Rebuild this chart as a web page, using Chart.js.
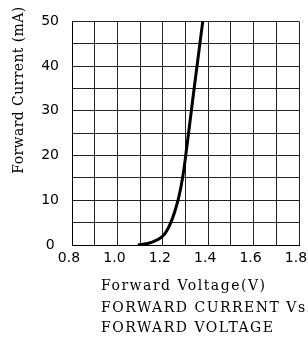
<!DOCTYPE html>
<html>
<head>
<meta charset="utf-8">
<script src="https://cdn.jsdelivr.net/npm/chart.js@4/dist/chart.umd.min.js"></script>
<style>
  html, body { margin: 0; padding: 0; background: #fff; }
  #wrap { width: 308px; height: 338px; position: relative; }
</style>
</head>
<body>
<div id="wrap"><canvas id="c" width="308" height="338"></canvas></div>
<script>
// Data
const voltage = [1.09, 1.15, 1.20, 1.235, 1.267, 1.287, 1.301, 1.338, 1.376];
const current = [0, 0.6, 2.0, 5, 10, 15, 20, 35, 50];
const xTickLabels = ['0.8', '1.0', '1.2', '1.4', '1.6', '1.8'];
const yTickLabels = ['0', '10', '20', '30', '40', '50'];
const yTitle = 'Forward Current (mA)';
const xTitleLines = ['Forward Voltage(V)', 'FORWARD CURRENT Vs.', 'FORWARD VOLTAGE'];

const TITLE_FONT = '"DejaVu Serif", serif';
const TICK_FONT = '"DejaVu Sans", sans-serif';

const textPlugin = {
  id: 'texts',
  afterDraw(chart) {
    const ctx = chart.ctx;
    ctx.save();
    ctx.fillStyle = '#000';
    ctx.font = '14px ' + TITLE_FONT;
    // y-axis title (rotated)
    ctx.save();
    ctx.letterSpacing = '0.4px';
    ctx.translate(19, 90);
    ctx.rotate(-Math.PI / 2);
    ctx.textAlign = 'center';
    ctx.textBaseline = 'middle';
    ctx.fillText(yTitle, 0, 0);
    ctx.restore();
    // x-axis title block (left aligned)
    ctx.letterSpacing = '1.5px';
    ctx.textAlign = 'left';
    ctx.textBaseline = 'alphabetic';
    const base = [290, 311.5, 331.5];
    xTitleLines.forEach((t, i) => ctx.fillText(t, 101, base[i]));
    ctx.restore();
  }
};

const gridColor = '#222';

new Chart(document.getElementById('c'), {
  type: 'line',
  data: {
    datasets: [{
      data: voltage.map((v, i) => ({ x: v, y: current[i] })),
      borderColor: '#000',
      borderWidth: 3,
      pointRadius: 0,
      fill: false,
      tension: 0.4
    }]
  },
  options: {
    responsive: false,
    animation: false,
    devicePixelRatio: 1,
    layout: { padding: { top: 19, right: 9, left: 0, bottom: 0 } },
    plugins: { legend: { display: false }, tooltip: { enabled: false }, title: { display: false } },
    scales: {
      x: {
        type: 'linear',
        min: 0.8,
        max: 1.8,
        afterFit(scale) { scale.height = 93; scale.paddingLeft = 0; scale.paddingRight = 0; },
        ticks: {
          stepSize: 0.1,
          autoSkip: false,
          maxRotation: 0,
          minRotation: 0,
          padding: 5,
          labelOffset: -3,
          color: '#000',
          font: { family: TICK_FONT, size: 14 },
          callback(v) {
            const k = Math.round(v * 10);
            if (k % 2 !== 0) return '';
            const s = (k / 10).toFixed(1);
            return xTickLabels.includes(s) ? s : '';
          }
        },
        grid: { color: gridColor, lineWidth: 1, drawTicks: false },
        border: { color: '#000', width: 1 }
      },
      y: {
        type: 'linear',
        min: 0,
        max: 50,
        afterFit(scale) { scale.width = 72; },
        ticks: {
          stepSize: 5,
          autoSkip: false,
          padding: 13,
          crossAlign: 'center',
          color: '#000',
          font: { family: TICK_FONT, size: 14 },
          callback(v) {
            const s = String(Math.round(v));
            return (Math.round(v) % 10 === 0 && yTickLabels.includes(s)) ? s : '';
          }
        },
        grid: { color: gridColor, lineWidth: 1, drawTicks: false },
        border: { color: '#000', width: 1 }
      }
    }
  },
  plugins: [textPlugin]
});
</script>
</body>
</html>
